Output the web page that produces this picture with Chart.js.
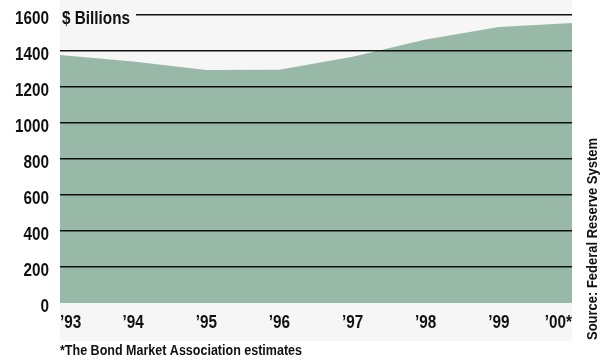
<!DOCTYPE html>
<html>
<head>
<meta charset="utf-8">
<script src="https://cdn.jsdelivr.net/npm/chart.js@4"></script>
<style>
  html, body { margin:0; padding:0; background:#fff; }
  #wrap { width:608px; height:362px; position:relative; }
</style>
</head>
<body>
<div id="wrap"><canvas id="munis"></canvas></div>
<script>
/* Municipal securities outstanding, $ billions */
const YEARS = ["\u201993","\u201994","\u201995","\u201996","\u201997","\u201998","\u201999","\u201900*"];
const OUTSTANDING = [1378, 1341, 1294, 1296, 1368, 1464, 1533, 1556];
const Y_TICKS = [0, 200, 400, 600, 800, 1000, 1200, 1400, 1600];

const FONT = "'Liberation Sans','Arimo','Helvetica',sans-serif";
const AREA = "#99b9a8";
const PANEL = "#f6f6f6";
const INK = "#111";
const NARROW = 0.85;   // horizontal squeeze to get a condensed look

// text squeezed horizontally; align is "left" | "right" | "center"
function narrowText(ctx, text, x, y, font, align, sx){
  ctx.save();
  ctx.font = font;
  ctx.textBaseline = "middle";
  ctx.textAlign = align;
  ctx.translate(x, y);
  ctx.scale(sx, 1);
  ctx.fillText(text, 0, 0);
  ctx.restore();
}
// squeeze factor so the text spans a given width
function fitScale(ctx, text, font, width){
  ctx.save(); ctx.font = font;
  const w = ctx.measureText(text).width;
  ctx.restore();
  return width / w;
}

const decor = {
  id:"decor",
  beforeDraw(chart){
    const {ctx, chartArea:a} = chart;
    ctx.save();
    ctx.fillStyle = PANEL;
    ctx.fillRect(a.left, 0, a.right - a.left, 341);
    ctx.restore();
  },
  afterDraw(chart){
    const {ctx, chartArea:a, scales} = chart;
    const tickFont = "bold 18px " + FONT;
    ctx.fillStyle = INK;

    // y tick labels, set a little below their grid line
    const ys = scales.y;
    ys.ticks.forEach((t, i)=>{
      narrowText(ctx, String(t.value), a.left - 11, ys.getPixelForTick(i) + 4, tickFont, "right", NARROW);
    });

    // x tick labels; end labels kept inside the panel
    const xs = scales.x;
    const n = xs.ticks.length;
    xs.ticks.forEach((t, i)=>{
      const lab = xs.getLabelForValue(t.value);
      const align = i === 0 ? "left" : (i === n - 1 ? "right" : "center");
      narrowText(ctx, lab, xs.getPixelForTick(i), 323, tickFont, align, NARROW);
    });

    // unit label sits over the top grid line
    const unit = "$ Billions";
    ctx.save();
    ctx.font = tickFont;
    const w = ctx.measureText(unit).width * NARROW;
    ctx.fillStyle = PANEL;
    ctx.fillRect(a.left, a.top - 8, w + 8, 17);
    ctx.restore();
    ctx.fillStyle = INK;
    narrowText(ctx, unit, a.left + 2, a.top + 4, tickFont, "left", NARROW);

    // footnote
    const note = "*The Bond Market Association estimates";
    const noteFont = "bold 14px " + FONT;
    narrowText(ctx, note, a.left, 351, noteFont, "left", fitScale(ctx, note, noteFont, 242));

    // source, rotated up the right edge
    const src = "Source: Federal Reserve System";
    const srcFont = "bold 15px " + FONT;
    const sx = fitScale(ctx, src, srcFont, 202);
    ctx.save();
    ctx.translate(593, 340);
    ctx.rotate(-Math.PI / 2);
    narrowText(ctx, src, 0, 0, srcFont, "left", sx);
    ctx.restore();
  }
};

new Chart(document.getElementById("munis"), {
  type:"line",
  data:{ labels:YEARS, datasets:[
    { data:OUTSTANDING, fill:"origin", backgroundColor:AREA, borderWidth:0, borderColor:AREA,
      pointRadius:0, tension:0 }
  ]},
  options:{ responsive:true, maintainAspectRatio:false, animation:false,
    layout:{ padding:{ top:15, right:36, left:0, bottom:0 } },
    plugins:{ legend:{display:false}, tooltip:{enabled:false} },
    scales:{
      x:{ offset:false, border:{display:false},
        grid:{display:false, drawTicks:false},
        ticks:{ display:false, autoSkip:false },
        afterFit:s=>{ s.height = 59; } },
      y:{ min:0, max:1600, border:{display:false},
        afterBuildTicks:s=>{ s.ticks = Y_TICKS.map(v=>({value:v})); },
        grid:{ z:1, drawTicks:false, lineWidth:1.5,
          color:c=> c.tick && c.tick.value === 0 ? "rgba(0,0,0,0)" : INK },
        ticks:{ display:false },
        afterFit:s=>{ s.width = 60; } }
    }
  },
  plugins:[decor]
});
</script>
</body>
</html>
